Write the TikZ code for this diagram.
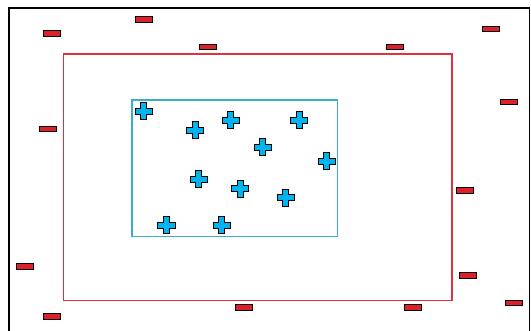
\documentclass[tikz,border=0pt]{standalone}
\usepackage{xcolor}
\usepackage{tikz}
\usetikzlibrary{positioning}

\definecolor{zonered}{HTML}{E0303C}
\definecolor{zonecyan}{HTML}{3AAFC8}
\definecolor{tagred}{HTML}{E02028}
\definecolor{plusblue}{HTML}{00B4F0}

\begin{document}
\begin{tikzpicture}[
    x=0.03cm, y=-0.03cm,
    frame/.style={draw=black, line width=1.3pt},
    outerzone/.style={draw=zonered, line width=1.2pt},
    innerzone/.style={draw=zonecyan, line width=1.2pt},
    tag/.style={rectangle, draw=black, fill=tagred, line width=0.8pt, inner sep=0pt, minimum width=0.51cm, minimum height=0.165cm},
    plus/.pic={\filldraw[fill=plusblue, draw=black, line width=0.8pt]
        (-3,-8.6) -- (3,-8.6) -- (3,-3) -- (8.6,-3) -- (8.6,3) -- (3,3)
        -- (3,8.6) -- (-3,8.6) -- (-3,3) -- (-8.6,3) -- (-8.6,-3) -- (-3,-3) -- cycle;}
]
    % Canvas
    \clip (0,0) rectangle (531,330);
    \fill[white] (0,0) rectangle (531,330);

    % Zones
    \draw[frame] (9,8) rectangle (529.5,345);
    \draw[outerzone] (63.5,54) rectangle (452,300.5);
    \draw[innerzone] (132,100) rectangle (337.5,236.5);

    % Red tags
    \foreach \px/\py [count=\i] in {52/33.5, 144/19.5, 208/47, 395.3/47, 491/29,
        509.3/102, 47.7/129, 465/190.3, 25/266.3, 468.3/275.5,
        244.3/307.3, 413.3/307.3, 514/303, 52.3/316.7}
        \node (tag\i) [tag] at (\px,\py) {};

    % Blue crosses
    \foreach \px/\py [count=\i] in {143.7/111, 195/130, 230.7/120, 299.3/120,
        262.7/147.3, 326.7/161, 198.7/179.3, 240/188.7, 285.7/197.7,
        221.7/225.3, 166.5/225.3}
        \pic (cross\i) at (\px,\py) {plus};

\end{tikzpicture}
\end{document}
